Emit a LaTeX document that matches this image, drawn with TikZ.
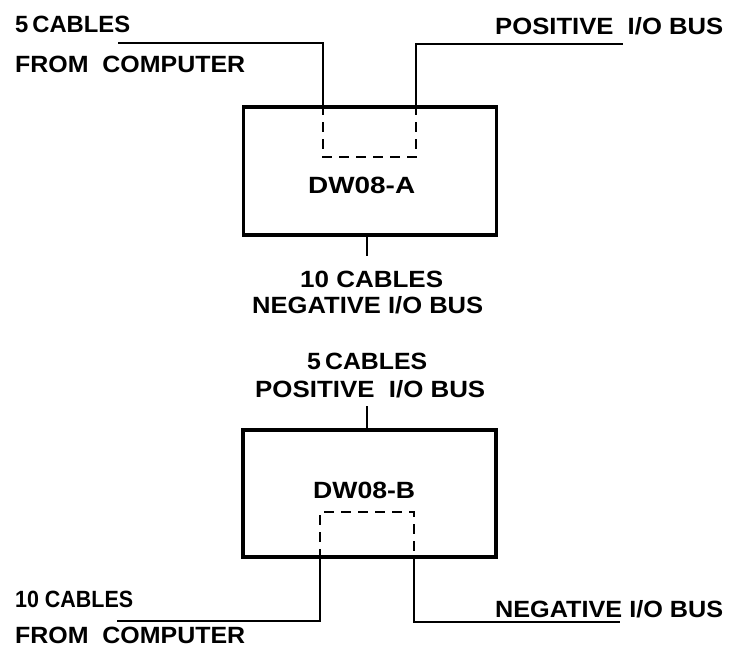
\documentclass[tikz,border=0pt]{standalone}
\usepackage{fontspec}
\setmainfont{Liberation Sans}
\usepackage{graphicx}
\newcommand{\fitw}[2]{\resizebox{#1pt}{\height}{\bfseries #2}}
\begin{document}
\begin{tikzpicture}[x=1pt,y=-1pt,
  lbl/.style={anchor=base west,inner sep=0pt,font=\fontsize{23.5}{24}\selectfont},
  unit/.style={draw,line width=3.5pt,inner sep=0pt},
  wire/.style={line width=2.2pt},
  dash box/.style={line width=2.2pt,dash pattern=on 10pt off 7pt}]
\useasboundingbox (0,0) rectangle (733,650);
% Box A
\node[unit,minimum width=253pt,minimum height=128pt] (A) at (370,171) {};
\node[lbl] (Alab) at (308,193) {\fitw{107}{DW08-A}};
% Box B
\node[unit,minimum width=253pt,minimum height=127pt] (B) at (369.5,493.5) {};
\node[lbl] (Blab) at (313,498) {\fitw{102}{DW08-B}};
% Labels
\node[lbl] (t1) at (15,33) {\fitw{115}{5\,CABLES}};
\node[lbl] (t2) at (15,73) {\fitw{230}{FROM\ \ COMPUTER}};
\node[lbl] (t3) at (495,35) {\fitw{228}{POSITIVE\ \ I/O BUS}};
\node[lbl] (t4) at (300,287) {\fitw{143}{10 CABLES}};
\node[lbl] (t5) at (252,313) {\fitw{231}{NEGATIVE I/O BUS}};
\node[lbl] (t6) at (307,369) {\fitw{120}{5\,CABLES}};
\node[lbl] (t7) at (255,397) {\fitw{230}{POSITIVE\ \ I/O BUS}};
\node[lbl] (t8) at (15,607) {\fitw{118}{10 CABLES}};
\node[lbl] (t9) at (15,643) {\fitw{230}{FROM\ \ COMPUTER}};
\node[lbl] (t10) at (495,617) {\fitw{228}{NEGATIVE I/O BUS}};
% free ends
\coordinate (a1) at (118,43);
\coordinate (a2) at (623,44);
\coordinate (b1) at (117,621);
\coordinate (b2) at (620,622);
% wires A
\draw[wire] (a1) -- (323,43) -- (A.north -| 323,0);
\draw[wire] (A.north -| 416,0) -- (416,44) -- (a2);
\draw[dash box] (A.north -| 323,0) -- (323,157) -- (416,157) -- (A.north -| 416,0);
\draw[wire] (A.south -| 367,0) -- (367,256);
% wires B
\draw[wire] (367,406) -- (B.north -| 367,0);
\draw[dash box] (B.south -| 320,0) -- (320,512) -- (414,512) -- (B.south -| 414,0);
\draw[wire] (B.south -| 320,0) -- (320,621) -- (b1);
\draw[wire] (B.south -| 414,0) -- (414,622) -- (b2);
\end{tikzpicture}
\end{document}
